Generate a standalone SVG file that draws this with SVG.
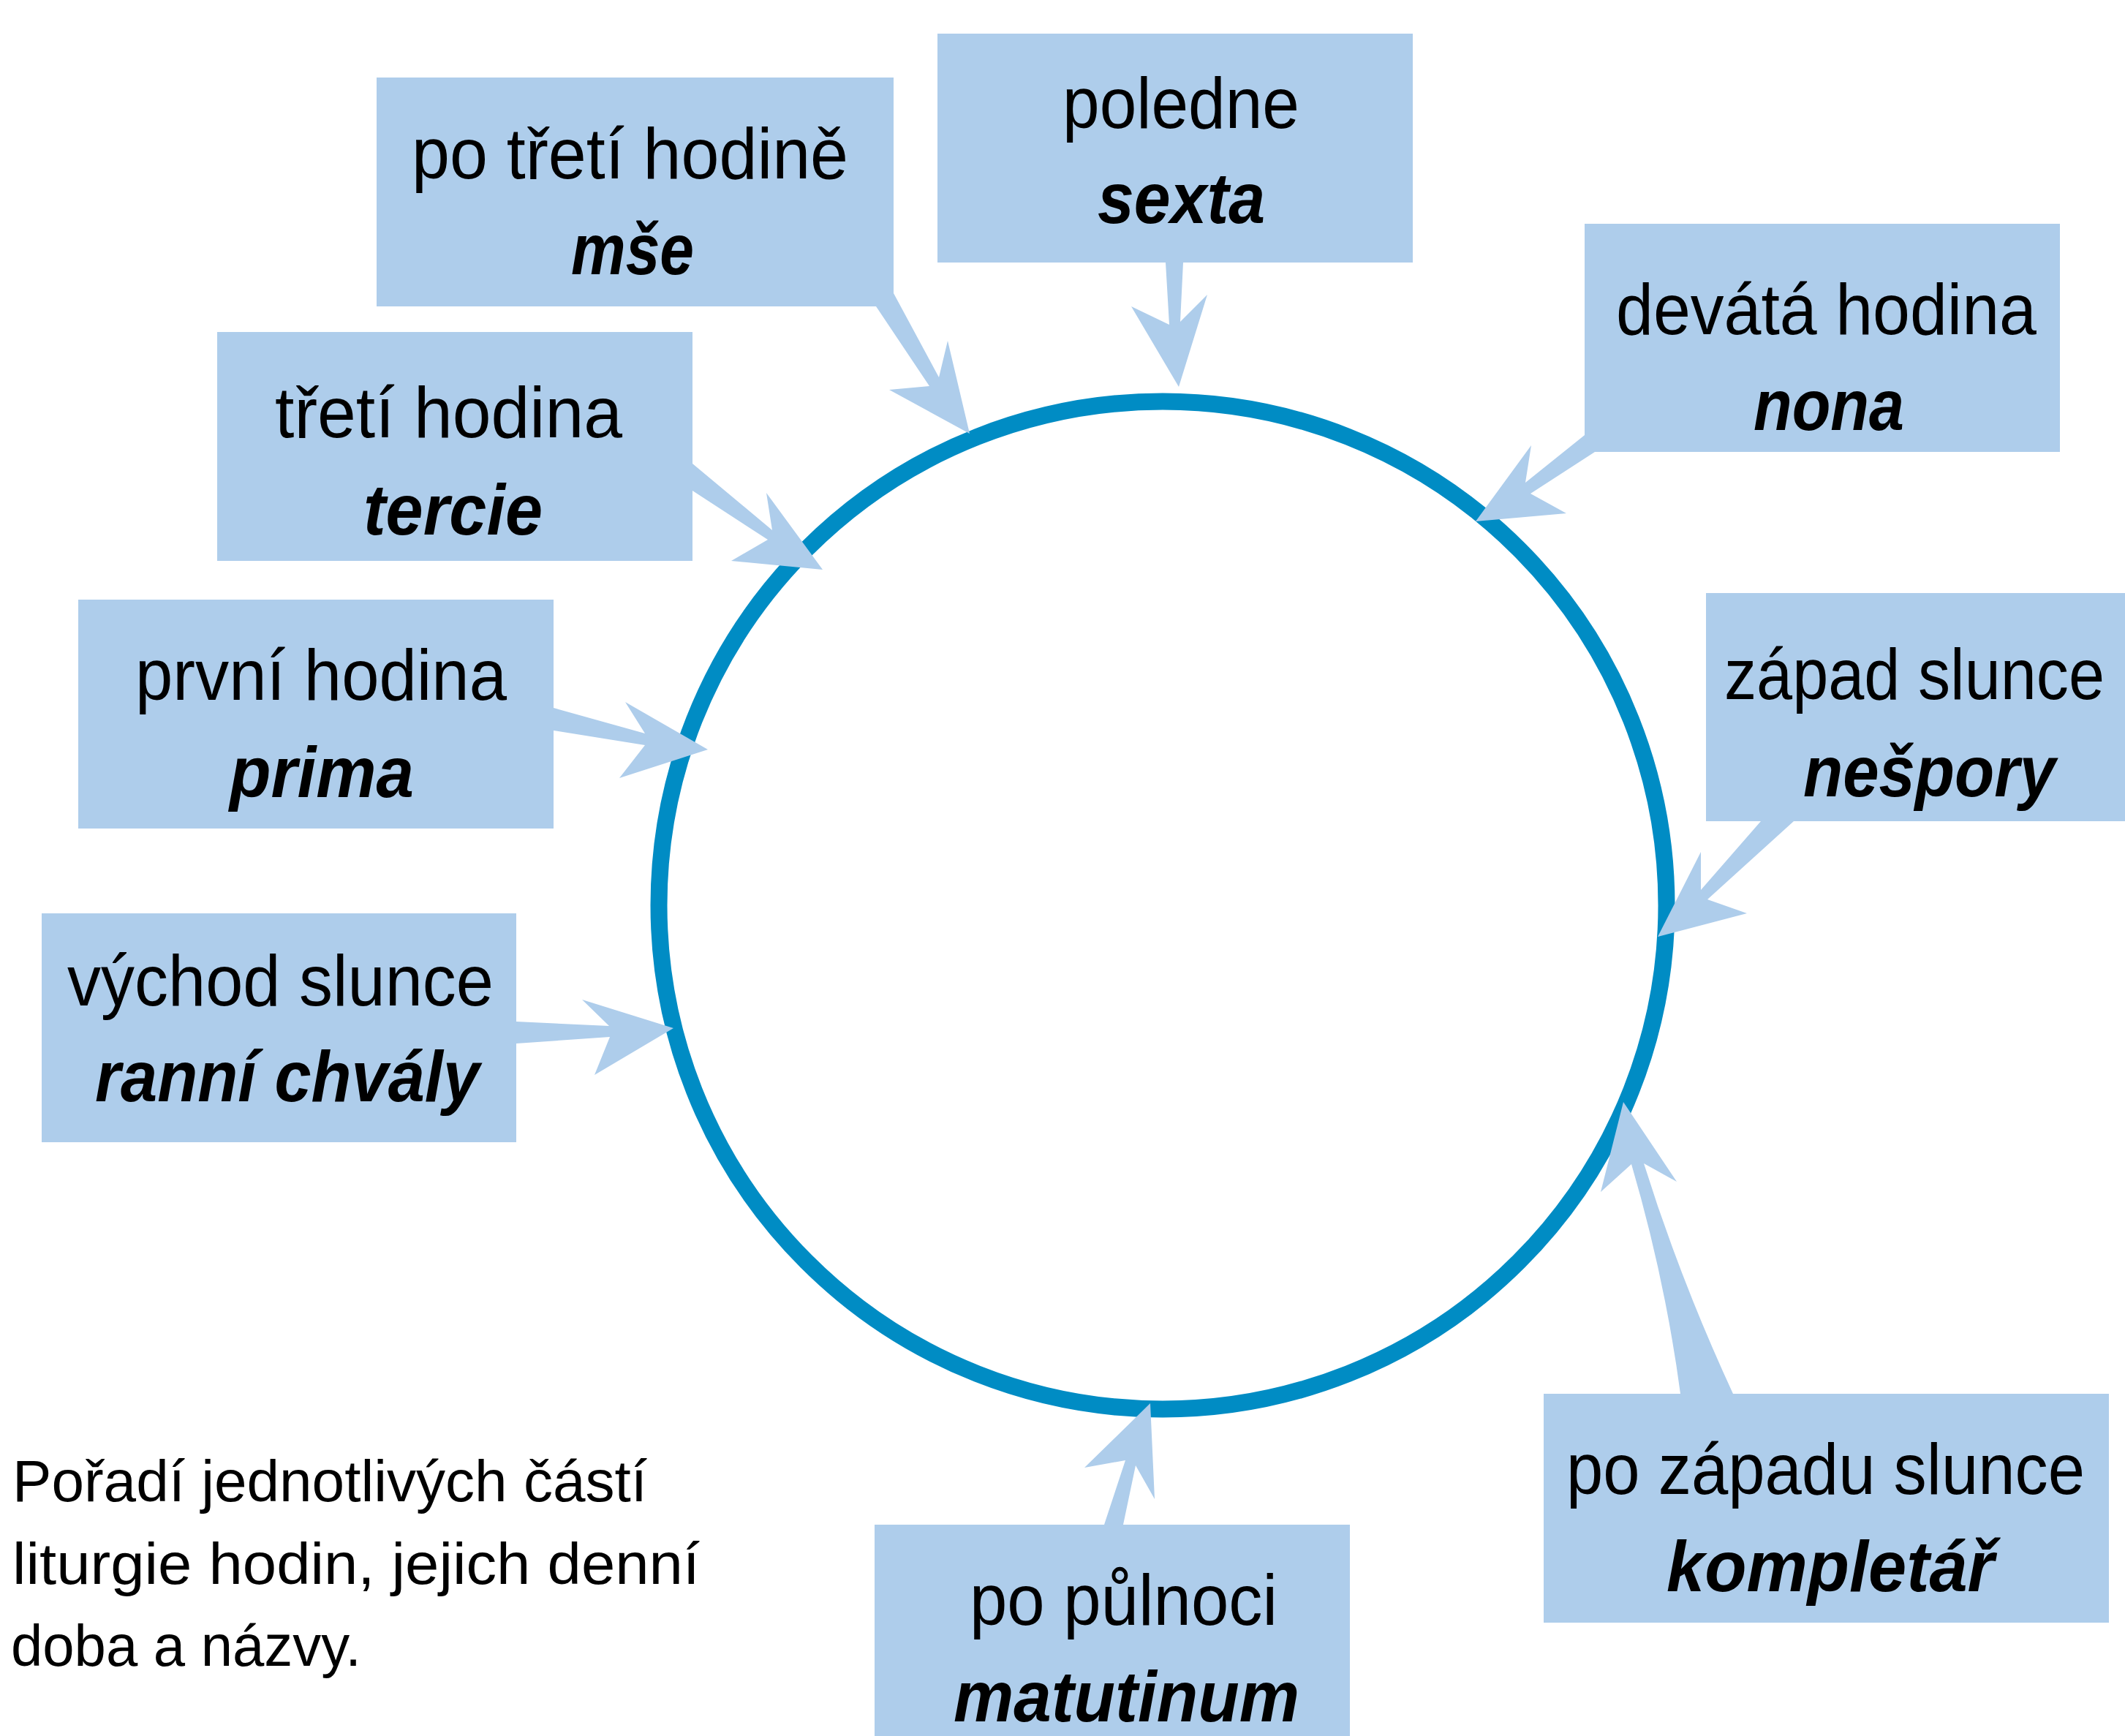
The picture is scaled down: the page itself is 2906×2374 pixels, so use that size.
<svg xmlns="http://www.w3.org/2000/svg" width="2906" height="2374" viewBox="0 0 2906 2374">
<style>
.box{fill:#aecdeb}
.arr{fill:#aecdeb}
.t{font-family:"Liberation Sans",Arial,sans-serif;font-size:98px;fill:#000}
.b{font-family:"Liberation Sans",Arial,sans-serif;font-size:98px;font-weight:bold;font-style:italic;fill:#000}
.c{font-family:"Liberation Sans",Arial,sans-serif;font-size:80px;fill:#000}
</style>
<rect width="2906" height="2374" fill="#fff"/>
<g id="cycle">
<circle cx="1590" cy="1238" r="689" fill="none" stroke="#008cc4" stroke-width="23"/>
</g>
<g id="connectors">
<polygon class="arr" points="1198,419 1271,528 1216,533 1326,593 1296,466 1284,516 1222,401 1222,419"/>
<polygon class="arr" points="1594,359 1599,444 1547,419 1612,529 1651,403 1614,440 1618,359"/>
<polygon class="arr" points="2167,595 2086,660 2094,609 2018,713 2142,702 2093,675 2181,618 2167,618"/>
<polygon class="arr" points="947,634 1056,725 1048,674 1125,779 1000,767 1050,738 947,671"/>
<polygon class="arr" points="757,968 882,1003 855,960 968,1025 847,1064 882,1019 757,999"/>
<polygon class="arr" points="2408,1123 2326,1217 2326,1165 2267,1281 2389,1249 2335,1230 2453,1123"/>
<polygon class="arr" points="706,1397 833,1403 796,1367 921,1406 813,1470 834,1418 706,1427"/>
<polygon class="arr" points="1510,2085 1539,1997 1483,2007 1573,1919 1579,2050 1553,2004 1536,2085"/>
<path class="arr" d="M2298,1906 Q2277,1749 2231,1592 L2189,1630 L2220,1507 L2293,1616 L2248,1591 Q2297,1748 2370,1906 Z"/>
</g>
<g id="node-mse">
<rect class="box" x="515" y="106" width="707" height="313"/>
<text class="t" x="563" y="244" textLength="597" lengthAdjust="spacingAndGlyphs">po třetí hodině</text>
<text class="b" x="781" y="375" textLength="168" lengthAdjust="spacingAndGlyphs">mše</text>
</g>
<g id="node-sexta">
<rect class="box" x="1282" y="46" width="650" height="313"/>
<text class="t" x="1453" y="175" textLength="324" lengthAdjust="spacingAndGlyphs">poledne</text>
<text class="b" x="1501" y="305" textLength="229" lengthAdjust="spacingAndGlyphs">sexta</text>
</g>
<g id="node-nona">
<rect class="box" x="2167" y="306" width="650" height="312"/>
<text class="t" x="2210" y="457" textLength="575" lengthAdjust="spacingAndGlyphs">devátá hodina</text>
<text class="b" x="2398" y="588" textLength="206" lengthAdjust="spacingAndGlyphs">nona</text>
</g>
<g id="node-tercie">
<rect class="box" x="297" y="454" width="650" height="313"/>
<text class="t" x="376" y="598" textLength="475" lengthAdjust="spacingAndGlyphs">třetí hodina</text>
<text class="b" x="497" y="731" textLength="245" lengthAdjust="spacingAndGlyphs">tercie</text>
</g>
<g id="node-prima">
<rect class="box" x="107" y="820" width="650" height="313"/>
<text class="t" x="185" y="957" textLength="508" lengthAdjust="spacingAndGlyphs">první hodina</text>
<text class="b" x="314" y="1090" textLength="252" lengthAdjust="spacingAndGlyphs">prima</text>
</g>
<g id="node-nespory">
<rect class="box" x="2333" y="811" width="573" height="312"/>
<text class="t" x="2358" y="956" textLength="520" lengthAdjust="spacingAndGlyphs">západ slunce</text>
<text class="b" x="2466" y="1089" textLength="345" lengthAdjust="spacingAndGlyphs">nešpory</text>
</g>
<g id="node-ranni-chvaly">
<rect class="box" x="57" y="1249" width="649" height="313"/>
<text class="t" x="92" y="1375" textLength="583" lengthAdjust="spacingAndGlyphs">východ slunce</text>
<text class="b" x="130" y="1506" textLength="526" lengthAdjust="spacingAndGlyphs">ranní chvály</text>
</g>
<g id="node-matutinum">
<rect class="box" x="1196" y="2085" width="650" height="289"/>
<text class="t" x="1326" y="2222" textLength="421" lengthAdjust="spacingAndGlyphs">po půlnoci</text>
<text class="b" x="1304" y="2354" textLength="473" lengthAdjust="spacingAndGlyphs">matutinum</text>
</g>
<g id="node-kompletar">
<rect class="box" x="2111" y="1906" width="773" height="313"/>
<text class="t" x="2142" y="2043" textLength="709" lengthAdjust="spacingAndGlyphs">po západu slunce</text>
<text class="b" x="2279" y="2176" textLength="448" lengthAdjust="spacingAndGlyphs">kompletář</text>
</g>
<g id="caption">
<text class="c" x="17" y="2053" textLength="868" lengthAdjust="spacingAndGlyphs">Pořadí jednotlivých částí</text>
<text class="c" x="17" y="2166" textLength="940" lengthAdjust="spacingAndGlyphs">liturgie hodin, jejich denní</text>
<text class="c" x="15" y="2278" textLength="479" lengthAdjust="spacingAndGlyphs">doba a názvy.</text>
</g>
</svg>
